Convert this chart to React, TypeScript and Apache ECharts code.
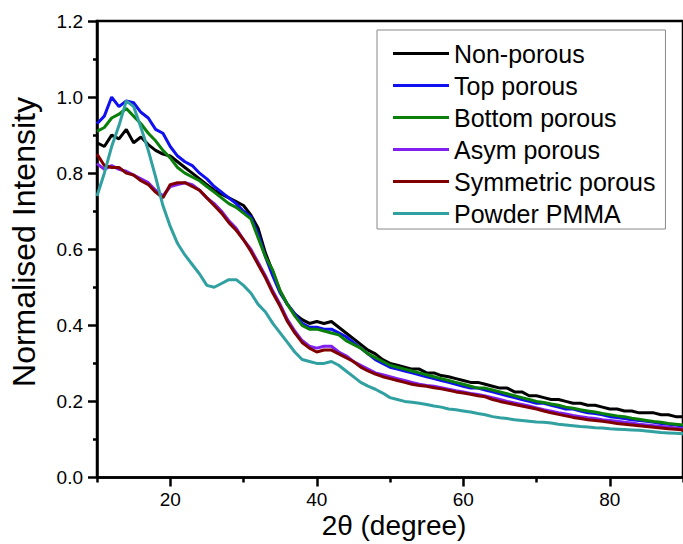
import React, { useEffect, useRef } from "react";
import * as echarts from "echarts";

const twoTheta = [
  10, 11, 12, 13, 14, 15, 16, 17, 18, 19,
  20, 21, 22, 23, 24, 25, 26, 27, 28, 29,
  30, 31, 32, 33, 34, 35, 36, 37, 38, 39,
  40, 41, 42, 43, 44, 45, 46, 47, 48, 49,
  50, 51, 52, 53, 54, 55, 56, 57, 58, 59,
  60, 61, 62, 63, 64, 65, 66, 67, 68, 69,
  70, 71, 72, 73, 74, 75, 76, 77, 78, 79,
  80, 81, 82, 83, 84, 85, 86, 87, 88, 89, 90,
];

const nonPorous = [
  0.88, 0.87, 0.9, 0.89, 0.915, 0.88, 0.895, 0.875, 0.86, 0.85,
  0.845, 0.83, 0.815, 0.8, 0.785, 0.77, 0.755, 0.745, 0.735, 0.725,
  0.715, 0.69, 0.655, 0.59, 0.54, 0.49, 0.455, 0.43, 0.415, 0.405,
  0.41, 0.405, 0.41, 0.395, 0.38, 0.365, 0.35, 0.335, 0.325, 0.31,
  0.3, 0.295, 0.29, 0.285, 0.285, 0.275, 0.275, 0.268, 0.265, 0.26,
  0.255, 0.25, 0.25, 0.245, 0.24, 0.235, 0.235, 0.225, 0.225, 0.215,
  0.215, 0.21, 0.205, 0.205, 0.2, 0.195, 0.195, 0.19, 0.19, 0.185,
  0.18, 0.18, 0.175, 0.175, 0.17, 0.17, 0.17, 0.165, 0.165, 0.16, 0.16,
];

const topPorous = [
  0.93, 0.95, 1.0, 0.975, 0.99, 0.985, 0.96, 0.945, 0.915, 0.905,
  0.87, 0.845, 0.83, 0.82, 0.8, 0.785, 0.765, 0.75, 0.735, 0.72,
  0.7, 0.685, 0.64, 0.58, 0.53, 0.485, 0.455, 0.43, 0.405, 0.395,
  0.395, 0.39, 0.39, 0.38, 0.37, 0.355, 0.34, 0.325, 0.31, 0.3,
  0.29, 0.285, 0.28, 0.275, 0.27, 0.265, 0.26, 0.255, 0.25, 0.245,
  0.24, 0.235, 0.235, 0.23, 0.225, 0.22, 0.215, 0.21, 0.205, 0.2,
  0.195, 0.195, 0.19, 0.185, 0.18, 0.18, 0.175, 0.17, 0.168, 0.165,
  0.16, 0.158, 0.155, 0.152, 0.15, 0.148, 0.145, 0.142, 0.14, 0.138, 0.135,
];

const bottomPorous = [
  0.91, 0.92, 0.945, 0.955, 0.97, 0.95, 0.93, 0.905, 0.885, 0.86,
  0.84, 0.815, 0.8, 0.79, 0.78, 0.765, 0.75, 0.735, 0.72, 0.71,
  0.695, 0.68, 0.63, 0.58, 0.545, 0.49, 0.455, 0.425, 0.4, 0.39,
  0.39, 0.385, 0.38, 0.375, 0.36, 0.35, 0.34, 0.325, 0.315, 0.305,
  0.295, 0.29, 0.285, 0.28, 0.275, 0.27, 0.265, 0.26, 0.255, 0.25,
  0.245, 0.24, 0.235, 0.235, 0.23, 0.225, 0.22, 0.215, 0.21, 0.205,
  0.2, 0.197, 0.193, 0.19, 0.185, 0.182, 0.178, 0.175, 0.172, 0.168,
  0.165, 0.162, 0.16, 0.156, 0.153, 0.15, 0.147, 0.145, 0.142, 0.14, 0.138,
];

const asymPorous = [
  0.825, 0.81, 0.82, 0.81, 0.805, 0.795, 0.785, 0.775, 0.755, 0.74,
  0.765, 0.77, 0.775, 0.77, 0.755, 0.735, 0.72, 0.7, 0.675, 0.655,
  0.625, 0.6, 0.565, 0.53, 0.49, 0.455, 0.415, 0.385, 0.36, 0.345,
  0.34, 0.345, 0.345, 0.33, 0.32, 0.305, 0.295, 0.285, 0.275, 0.27,
  0.265, 0.26, 0.255, 0.25, 0.245, 0.242, 0.24, 0.236, 0.232, 0.228,
  0.225, 0.221, 0.218, 0.214, 0.21, 0.205, 0.2, 0.196, 0.192, 0.188,
  0.183, 0.178, 0.174, 0.17, 0.167, 0.163, 0.16, 0.157, 0.155, 0.152,
  0.15, 0.148, 0.145, 0.143, 0.14, 0.138, 0.136, 0.134, 0.132, 0.13, 0.128,
];

const symmetricPorous = [
  0.85, 0.82, 0.815, 0.815, 0.8, 0.795, 0.78, 0.77, 0.75, 0.735,
  0.77, 0.775, 0.775, 0.765, 0.755, 0.735, 0.715, 0.695, 0.67, 0.65,
  0.625, 0.595, 0.56, 0.525, 0.485, 0.45, 0.41, 0.38, 0.355, 0.34,
  0.33, 0.335, 0.335, 0.325, 0.315, 0.305, 0.29, 0.28, 0.272, 0.265,
  0.26, 0.255, 0.25, 0.245, 0.242, 0.24, 0.236, 0.233, 0.229, 0.225,
  0.222, 0.219, 0.215, 0.212, 0.205, 0.2, 0.196, 0.192, 0.188, 0.184,
  0.18, 0.175, 0.17, 0.166, 0.162, 0.158, 0.155, 0.152, 0.15, 0.148,
  0.145, 0.142, 0.14, 0.138, 0.136, 0.134, 0.132, 0.13, 0.128, 0.127, 0.125,
];

const powderPMMA = [
  0.74, 0.8, 0.87, 0.925, 0.99, 0.975, 0.92, 0.86, 0.79, 0.715,
  0.66, 0.615, 0.585, 0.56, 0.535, 0.505, 0.5, 0.51, 0.52, 0.52,
  0.505, 0.485, 0.455, 0.435, 0.405, 0.38, 0.355, 0.33, 0.31, 0.305,
  0.3, 0.3, 0.305, 0.295, 0.28, 0.265, 0.25, 0.24, 0.232, 0.222,
  0.21, 0.205, 0.2, 0.198, 0.195, 0.192, 0.188, 0.185, 0.18, 0.178,
  0.175, 0.172, 0.168, 0.165, 0.16, 0.157, 0.155, 0.152, 0.15, 0.148,
  0.146, 0.145, 0.143, 0.14, 0.138, 0.136, 0.134, 0.133, 0.131, 0.13,
  0.128, 0.127, 0.126, 0.125, 0.124, 0.122, 0.12, 0.118, 0.117, 0.116, 0.115,
];

const seriesNames = [
  "Non-porous",
  "Top porous",
  "Bottom porous",
  "Asym porous",
  "Symmetric porous",
  "Powder PMMA",
];
const seriesValues = [nonPorous, topPorous, bottomPorous, asymPorous, symmetricPorous, powderPMMA];
const seriesColors = ["#000000", "#1010f0", "#0a800a", "#8020f0", "#800000", "#30a0a0"];

const majorXTicks = [20, 40, 60, 80];
const yTickLabels = ["0.0", "0.2", "0.4", "0.6", "0.8", "1.0", "1.2"];

const FONT = "'Liberation Sans', Arial, Helvetica, sans-serif";

export default function App() {
  const ref = useRef<HTMLDivElement>(null);

  useEffect(() => {
    if (!ref.current) return;
    const chart = echarts.init(ref.current, undefined, { renderer: "svg" });

    const series = seriesNames.map((name, i) => ({
      name,
      type: "line",
      xAxisIndex: 0,
      yAxisIndex: 0,
      data: twoTheta.map((x, j) => [x, seriesValues[i][j]]),
      symbol: "none",
      showSymbol: false,
      legendIcon: "rect",
      lineStyle: { color: seriesColors[i], width: 3 },
      itemStyle: { color: seriesColors[i] },
      z: 2 + i,
    }));

    chart.setOption({
      animation: false,
      backgroundColor: "#ffffff",
      grid: {
        left: 97,
        top: 21,
        width: 595,
        height: 456.5,
        show: true,
        borderColor: "#000",
        borderWidth: 2.5,
        containLabel: false,
      },
      xAxis: [
        {
          type: "value",
          min: 10,
          max: 90,
          position: "bottom",
          axisLine: { show: true, lineStyle: { color: "#000", width: 2.5 } },
          axisTick: {
            show: true,
            customValues: majorXTicks,
            length: 9,
            inside: false,
            lineStyle: { color: "#000", width: 2.5 },
          },
          axisLabel: {
            customValues: majorXTicks,
            margin: 12,
            fontSize: 19,
            color: "#000",
            fontFamily: FONT,
          },
          splitLine: { show: false },
        },
        {
          type: "value",
          min: 10,
          max: 90,
          interval: 20,
          position: "bottom",
          axisLine: { show: false },
          axisTick: { show: true, length: 5, lineStyle: { color: "#000", width: 2.5 } },
          axisLabel: { show: false },
          splitLine: { show: false },
        },
      ],
      yAxis: {
        type: "value",
        min: 0,
        max: 1.2,
        interval: 0.2,
        axisLine: { show: true, lineStyle: { color: "#000", width: 2.5 } },
        axisTick: { show: true, length: 9, lineStyle: { color: "#000", width: 2.5 } },
        minorTick: { show: true, splitNumber: 2, length: 4, lineStyle: { color: "#000", width: 2.5 } },
        axisLabel: {
          margin: 14,
          fontSize: 19,
          color: "#000",
          fontFamily: FONT,
          formatter: (v: number) => yTickLabels[Math.round(v / 0.2)] ?? v.toFixed(1),
        },
        splitLine: { show: false },
        minorSplitLine: { show: false },
      },
      legend: {
        orient: "vertical",
        left: 377,
        top: 30,
        padding: [11, 10, 3, 16],
        itemWidth: 56,
        itemHeight: 3,
        itemGap: 7,
        icon: "rect",
        borderColor: "#888",
        borderWidth: 1,
        backgroundColor: "#fff",
        textStyle: { fontSize: 25, color: "#000", fontFamily: FONT },
        data: seriesNames.map((n, i) => ({ name: n, icon: "rect", itemStyle: { color: seriesColors[i] } })),
      },
      graphic: [
        {
          type: "text",
          x: 24,
          y: 242,
          rotation: Math.PI / 2,
          style: {
            text: "Normalised Intensity",
            fontSize: 32,
            fontFamily: FONT,
            fill: "#000",
            textAlign: "center",
            textVerticalAlign: "middle",
          },
        },
        {
          type: "text",
          x: 394,
          y: 525,
          style: {
            text: "2θ (degree)",
            fontSize: 28,
            fontFamily: FONT,
            fill: "#000",
            textAlign: "center",
            textVerticalAlign: "middle",
          },
        },
      ],
      series,
    });

    return () => chart.dispose();
  }, []);

  return (
    <div
      ref={ref}
      style={{ position: "fixed", left: 0, top: 0, width: 683, height: 544, overflow: "hidden", background: "#fff" }}
    />
  );
}
